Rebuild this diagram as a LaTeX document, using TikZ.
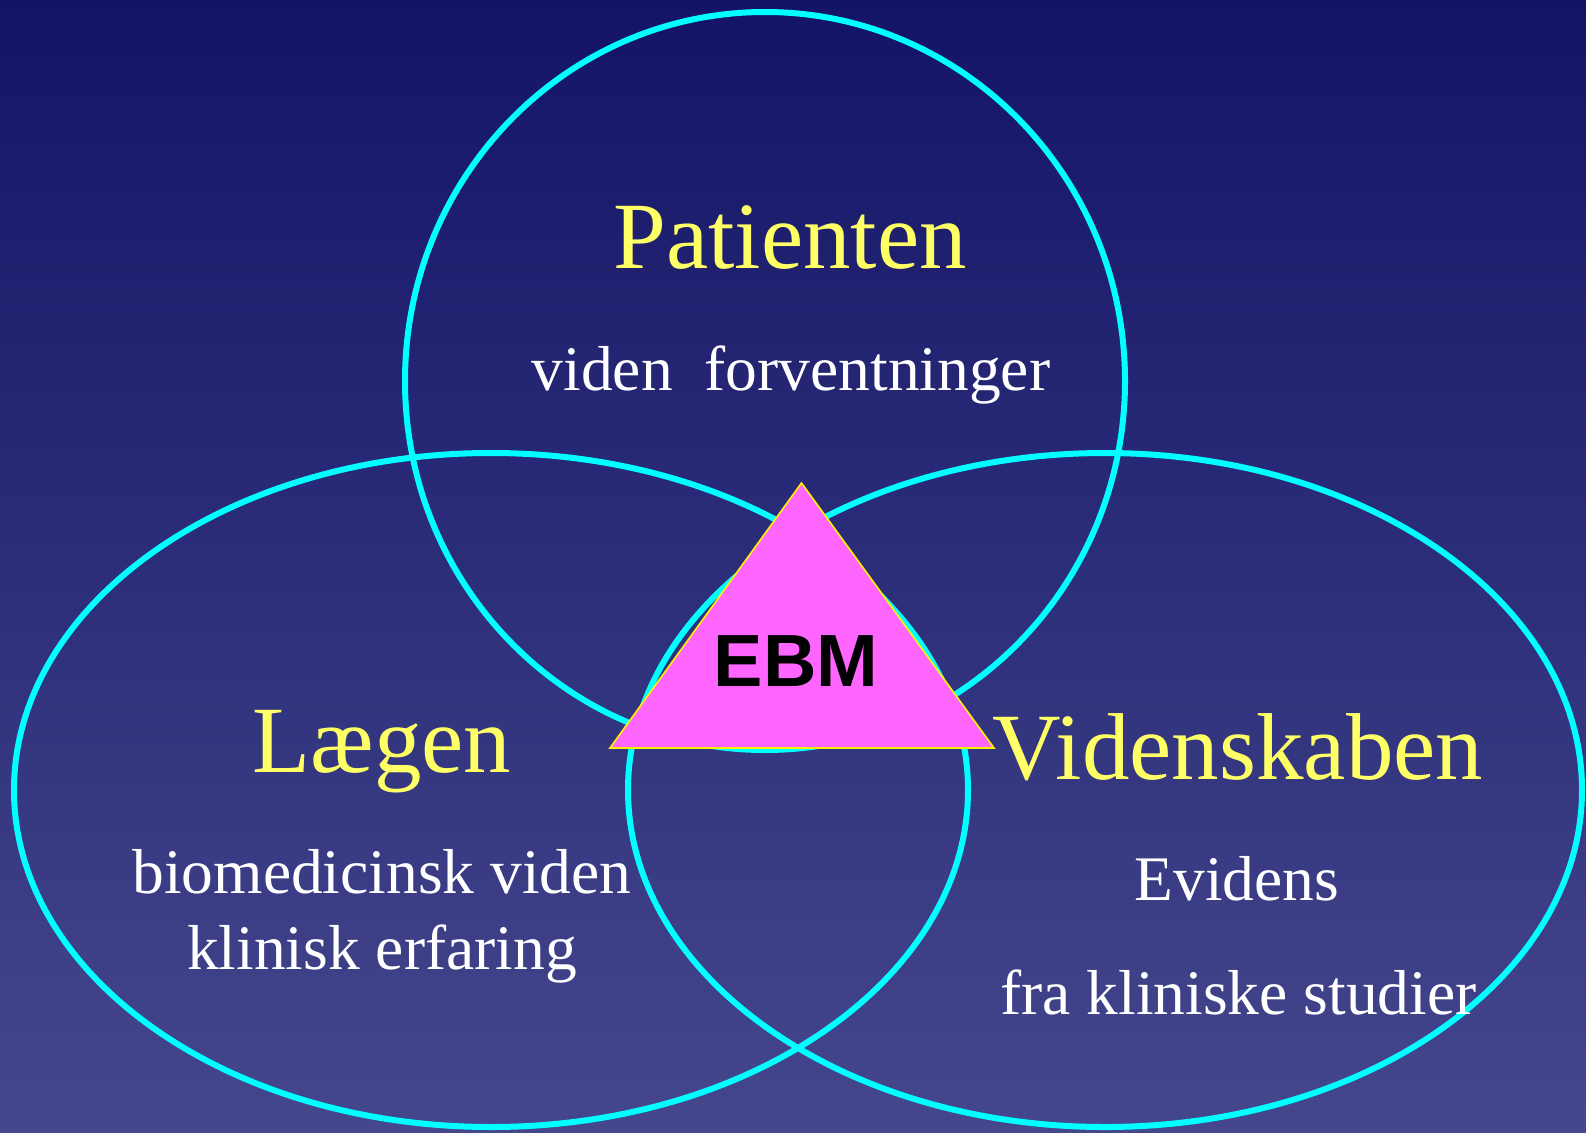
\documentclass[tikz,border=0pt]{standalone}
\usepackage{fontspec}
\setmainfont{Liberation Serif}
\newfontfamily\ebmfont{Liberation Sans}
\definecolor{bgtop}{HTML}{141466}
\definecolor{bgbot}{HTML}{45478D}
\definecolor{ringc}{HTML}{00FFFF}
\definecolor{titlec}{HTML}{FFFF66}
\definecolor{trifill}{HTML}{FF66FF}
\begin{document}
\begin{tikzpicture}[x=1pt,y=-1pt,
  ring/.style={draw=ringc,line width=6pt},
  titletext/.style={text=titlec,anchor=base,inner sep=0pt,font=\fontsize{95}{110}\selectfont},
  bodytext/.style={text=white,anchor=base,inner sep=0pt,font=\fontsize{63.5}{75}\selectfont}]
\useasboundingbox (0,0) rectangle (1586,1132);
\shade[top color=bgtop,bottom color=bgbot] (0,0) rectangle (1586,1132);
% circles
\draw[ring] (765,381) ellipse [x radius=360,y radius=369];
\draw[ring] (491,790) ellipse [x radius=477,y radius=337];
\draw[ring] (1105,790) ellipse [x radius=477,y radius=337];
% triangle
\coordinate (apex) at (801.5,483);
\coordinate (bl) at (610,748);
\coordinate (br) at (994,748);
\draw[fill=trifill,draw=yellow,line width=1.6pt,line join=miter] (apex) -- (bl) -- (br) -- cycle;
\node[anchor=base,inner sep=0pt,font=\ebmfont\bfseries\fontsize{74}{80}\selectfont,text=black] (ebm) at (796,686.5) {EBM};
% texts
\node[titletext] (pat) at (790,268) {Patienten};
\node[bodytext] (patsub) at (791,390) {viden\ \ forventninger};
\node[titletext] (laeg) at (382,772) {Lægen};
\node[bodytext] (laeg1) at (382,893) {biomedicinsk viden};
\node[bodytext] (laeg2) at (382,969) {klinisk erfaring};
\node[titletext] (vid) at (1238,779) {Videnskaben};
\node[bodytext] (vid1) at (1237,900) {Evidens};
\node[bodytext] (vid2) at (1238.5,1014) {fra kliniske studier};
\end{tikzpicture}
\end{document}
